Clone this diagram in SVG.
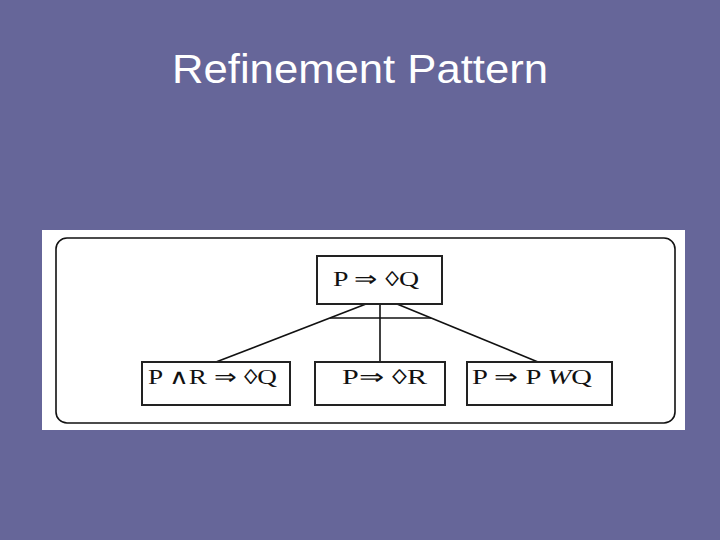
<svg xmlns="http://www.w3.org/2000/svg" width="720" height="540" viewBox="0 0 720 540">
<style>
.box{fill:#fff;stroke:#222;stroke-width:2}
.lbl{font-family:"Liberation Serif","Times New Roman",serif;font-size:21px;fill:#111}
.conn{stroke:#111;stroke-width:1.6;fill:none}
</style>
<rect width="720" height="540" fill="#666699"/>
<text x="360" y="83" text-anchor="middle" font-family="Liberation Sans, Arial, sans-serif" font-size="40" fill="#fff" textLength="376" lengthAdjust="spacingAndGlyphs">Refinement Pattern</text>
<rect x="42" y="230" width="643" height="200" fill="#fff"/>
<rect x="56" y="238" width="619" height="185" rx="11" fill="none" stroke="#111" stroke-width="1.6"/>
<g id="connectors">
<line class="conn" x1="366" y1="304" x2="216" y2="362"/>
<line class="conn" x1="380" y1="304" x2="380" y2="362"/>
<line class="conn" x1="397" y1="304" x2="538" y2="362"/>
<line class="conn" x1="330" y1="318" x2="431" y2="318"/>
</g>
<g id="top">
<rect class="box" x="317" y="256" width="125" height="48"/>
<text class="lbl" x="333" y="286" textLength="86" lengthAdjust="spacingAndGlyphs">P ⇒ ◊Q</text>
</g>
<g id="left">
<rect class="box" x="142" y="362" width="148" height="43"/>
<text class="lbl" x="148" y="384" textLength="129" lengthAdjust="spacingAndGlyphs">P <tspan font-family="DejaVu Serif, serif" font-size="21" font-weight="200">∧</tspan>R ⇒ ◊Q</text>
</g>
<g id="middle">
<rect class="box" x="315" y="362" width="130" height="43"/>
<text class="lbl" x="342" y="384" textLength="85" lengthAdjust="spacingAndGlyphs">P⇒ ◊R</text>
</g>
<g id="right">
<rect class="box" x="467" y="362" width="145" height="43"/>
<text class="lbl" x="472" y="384" textLength="120" lengthAdjust="spacingAndGlyphs">P ⇒ P <tspan font-style="italic">W</tspan>Q</text>
</g>
</svg>
